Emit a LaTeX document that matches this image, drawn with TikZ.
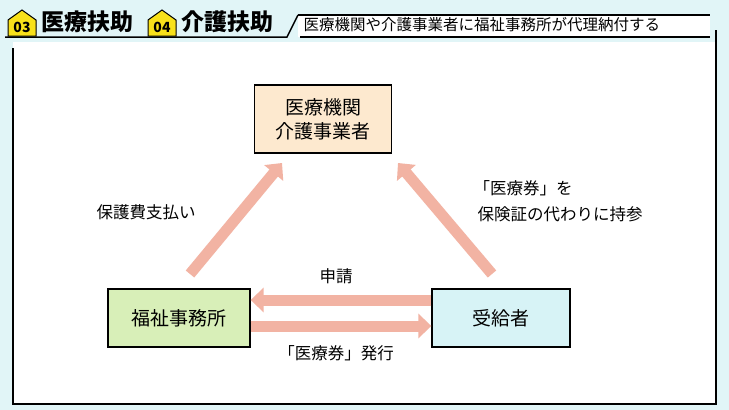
\documentclass[tikz,border=0pt]{standalone}
\usepackage{fontspec}
\setmainfont{Noto Sans CJK JP}
\usetikzlibrary{arrows.meta}
\definecolor{bgcyan}{HTML}{E1F5F7}
\definecolor{salmon}{HTML}{F2B3A3}
\definecolor{peach}{HTML}{FDE9CF}
\definecolor{leaf}{HTML}{D8EFB8}
\definecolor{aqua}{HTML}{D7F3F6}
\definecolor{gold}{HTML}{F8E11A}
\begin{document}
\begin{tikzpicture}[x=1pt,y=-1pt,
box/.style={draw=black, line width=1.3pt, minimum height=58pt, font=\fontsize{19}{24}\selectfont, align=center},
flow/.style={draw=salmon, line width=11pt, -{Triangle[width=24pt,length=13pt]}},
lbl/.style={font=\fontsize{16.5}{20}\selectfont},
house/.style={draw=black, line width=1pt, fill=gold},
]
\useasboundingbox (0,0) rectangle (729,410);
\fill[bgcyan] (0,0) rectangle (729,410);
\fill[white] (13,42) rectangle (716,404);
\draw[line width=1.3pt] (13,48) -- (13,404) -- (716,404) -- (716,30);

% Header
\fill[white] (298,15) rectangle (710,37);
\draw[line width=1.5pt] (298,15) -- (710,15);
\draw[line width=1.5pt] (5,37) -- (287,37) -- (298,15);
\draw[line width=1.5pt] (300,37) -- (710,37);
\draw[house] (8,36) -- (8,20) -- (22,10) -- (36,20) -- (36,36) -- cycle;
\node (n03) at (22,27) {\fontsize{14}{14}\selectfont\bfseries 03};
\node[anchor=west] (t03) at (38,22) {\fontsize{23}{26}\selectfont\bfseries 医療扶助};
\draw[house] (148,36) -- (148,20) -- (162,10) -- (176,20) -- (176,36) -- cycle;
\node (n04) at (162,27) {\fontsize{14}{14}\selectfont\bfseries 04};
\node[anchor=west] (t04) at (178,22) {\fontsize{23}{26}\selectfont\bfseries 介護扶助};
\node[anchor=west] (sub) at (300,25) {\fontsize{15.5}{17}\selectfont 医療機関や介護事業者に福祉事務所が代理納付する};

% Boxes
\node[box, fill=peach, minimum width=137pt, minimum height=68pt] (inst) at (323,119) {医療機関\\介護事業者};
\node[box, fill=leaf, minimum width=142pt] (office) at (179,318) {福祉事務所};
\node[box, fill=aqua, minimum width=138pt] (recv) at (501,318) {受給者};

% Arrows
\coordinate (a1) at (190,274);
\coordinate (a2) at (282,163);
\coordinate (b1) at (492,274);
\coordinate (b2) at (398,163);
\draw[flow] (a1) -- (a2);
\draw[flow] (b1) -- (b2);
\draw[flow] (recv.west |- 0,300) -- (office.east |- 0,300);
\draw[flow] (office.east |- 0,326) -- (recv.west |- 0,326);

% Labels
\node[lbl] (pay) at (146,212) {保護費支払い};
\node[lbl, anchor=west] (card1) at (470,188) {「医療券」を};
\node[lbl, anchor=west] (card2) at (474,214) {保険証の代わりに持参};
\node[lbl] (apply) at (336,276) {申請};
\node[lbl] (issue) at (336,353) {「医療券」発行};
\end{tikzpicture}
\end{document}
